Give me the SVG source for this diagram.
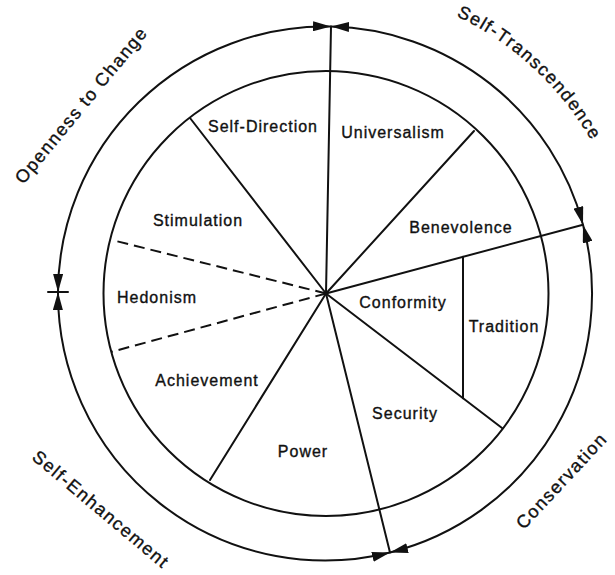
<svg xmlns="http://www.w3.org/2000/svg" width="615" height="575" viewBox="0 0 615 575">
<style>
.ln{fill:none;stroke:#111;stroke-width:2;stroke-linecap:round}
.ds{stroke-dasharray:11 6;stroke-linecap:butt}
.arc{fill:none;stroke:#111;stroke-width:2;marker-start:url(#ah);marker-end:url(#ah)}
.lb{font-family:"Liberation Sans",Arial,sans-serif;font-size:16px;letter-spacing:1px;fill:#111;stroke:#111;stroke-width:0.35;text-anchor:middle}
.ol{font-family:"Liberation Sans",Arial,sans-serif;font-size:18px;letter-spacing:1.5px;fill:#111;stroke:#111;stroke-width:0.35;text-anchor:middle}
</style>
<defs>
<marker id="ah" markerUnits="userSpaceOnUse" viewBox="0 0 18 10" refX="18" refY="5" markerWidth="18" markerHeight="10" orient="auto-start-reverse">
<path d="M0,0 L18,5 L0,10 z" fill="#111"/>
</marker>
<path id="p-st" d="M351.8,-12.3 A307,307 0 0 1 627.9,243.4"/>
</defs>
<rect width="615" height="575" fill="#fff"/>
<g id="wheel">
<circle class="ln" cx="326" cy="293.5" r="222.5"/>
</g>
<g id="connectors">
<line class="ln" x1="326" y1="293.5" x2="331" y2="26.6"/>
<line class="ln" x1="326" y1="293.5" x2="190" y2="118"/>
<line class="ln" x1="326" y1="293.5" x2="474" y2="131"/>
<line class="ln" x1="326" y1="293.5" x2="583" y2="224.7"/>
<line class="ln ds" x1="326" y1="293.5" x2="112" y2="240"/>
<line class="ln ds" x1="326" y1="293.5" x2="111" y2="352"/>
<line class="ln" x1="326" y1="293.5" x2="210" y2="480"/>
<line class="ln" x1="326" y1="293.5" x2="390" y2="552.5"/>
<line class="ln" x1="326" y1="293.5" x2="502" y2="428"/>
<line class="ln" x1="463" y1="256.8" x2="463" y2="398.2"/>
<line class="ln" x1="48" y1="292" x2="68" y2="292"/>
<path id="arc-openness" class="arc" d="M58,292 A267,267 0 0 1 331,26.6"/>
<path id="arc-transcendence" class="arc" d="M331,26.6 A267,267 0 0 1 583,224.7"/>
<path id="arc-conservation" class="arc" d="M583,224.7 A267,267 0 0 1 390,552.5"/>
<path id="arc-enhancement" class="arc" d="M390,552.5 A267,267 0 0 1 58,292"/>
</g>
<g id="self-direction"><text class="lb" x="263" y="132">Self-Direction</text></g>
<g id="universalism"><text class="lb" x="393" y="138">Universalism</text></g>
<g id="benevolence"><text class="lb" x="461" y="233">Benevolence</text></g>
<g id="stimulation"><text class="lb" x="198" y="226">Stimulation</text></g>
<g id="hedonism"><text class="lb" x="157" y="303">Hedonism</text></g>
<g id="conformity"><text class="lb" x="403" y="308">Conformity</text></g>
<g id="tradition"><text class="lb" x="504" y="332">Tradition</text></g>
<g id="achievement"><text class="lb" x="207" y="386">Achievement</text></g>
<g id="security"><text class="lb" x="405" y="419">Security</text></g>
<g id="power"><text class="lb" x="303" y="457">Power</text></g>
<g id="openness-to-change"><text class="ol" transform="translate(86,109) rotate(-50.5)">Openness to Change</text></g>
<g id="self-transcendence"><text class="ol"><textPath href="#p-st" startOffset="50%">Self-Transcendence</textPath></text></g>
<g id="self-enhancement"><text class="ol" transform="translate(97,514) rotate(40)">Self-Enhancement</text></g>
<g id="conservation"><text class="ol" transform="translate(566,485) rotate(-47)">Conservation</text></g>
</svg>
